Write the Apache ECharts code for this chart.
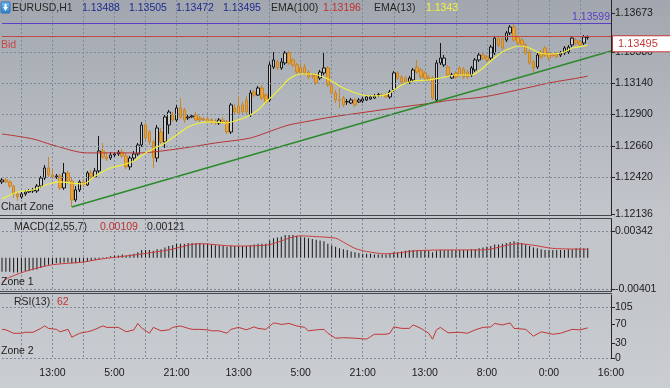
<!DOCTYPE html>
<html><head><meta charset="utf-8">
<script src="https://cdn.jsdelivr.net/npm/echarts@6/dist/echarts.min.js"></script>
<style>
html,body{margin:0;padding:0;}
body{width:670px;height:388px;overflow:hidden;background:linear-gradient(#a2a7af 0px,#b9bdc3 150px,#c2c6cb 215px,#c3c7cc 300px,#cacdd1 388px);}
#c{width:670px;height:388px;}
</style></head><body><div id="c"></div>
<script>
// ---- data ----
// candles: [open, high, low, close]
const candles = [
[1.12384,1.12414,1.12368,1.12399],[1.12399,1.12414,1.12376,1.12384],[1.12384,1.12399,1.12338,1.12353],[1.12353,1.12361,1.12261,1.12292],
[1.12292,1.12307,1.12239,1.12269],[1.12269,1.12307,1.12254,1.12292],[1.12292,1.12323,1.12277,1.12307],[1.12307,1.12330,1.12300,1.12315],
[1.12315,1.12338,1.12300,1.12323],[1.12315,1.12368,1.12300,1.12353],[1.12353,1.12430,1.12338,1.12414],[1.12414,1.12514,1.12399,1.12491],
[1.12491,1.12575,1.12422,1.12437],[1.12437,1.12483,1.12407,1.12422],[1.12422,1.12445,1.12407,1.12430],[1.12430,1.12445,1.12323,1.12338],
[1.12338,1.12529,1.12323,1.12453],[1.12453,1.12468,1.12368,1.12391],[1.12391,1.12414,1.12192,1.12246],[1.12246,1.12353,1.12231,1.12323],
[1.12323,1.12399,1.12307,1.12384],[1.12384,1.12407,1.12345,1.12361],[1.12361,1.12468,1.12353,1.12453],[1.12453,1.12476,1.12407,1.12422],
[1.12422,1.12491,1.12414,1.12468],[1.12468,1.12736,1.12453,1.12621],[1.12621,1.12682,1.12560,1.12575],[1.12575,1.12613,1.12544,1.12560],
[1.12567,1.12613,1.12552,1.12590],[1.12590,1.12613,1.12575,1.12598],[1.12598,1.12628,1.12583,1.12613],[1.12613,1.12636,1.12567,1.12583],
[1.12583,1.12606,1.12483,1.12499],[1.12499,1.12583,1.12476,1.12567],[1.12567,1.12621,1.12544,1.12598],[1.12598,1.12682,1.12583,1.12667],
[1.12667,1.12843,1.12651,1.12820],[1.12820,1.12835,1.12705,1.12720],[1.12766,1.12781,1.12667,1.12690],[1.12690,1.12705,1.12491,1.12567],
[1.12567,1.12820,1.12537,1.12797],[1.12766,1.12797,1.12674,1.12690],[1.12690,1.12896,1.12644,1.12881],[1.12820,1.12935,1.12751,1.12919],
[1.12896,1.12919,1.12843,1.12858],[1.12858,1.12973,1.12843,1.12950],[1.12950,1.13026,1.12866,1.12881],[1.12935,1.12950,1.12835,1.12858],
[1.12873,1.12896,1.12858,1.12881],[1.12881,1.12904,1.12873,1.12889],[1.12896,1.12919,1.12850,1.12858],[1.12873,1.12889,1.12843,1.12858],
[1.12866,1.12881,1.12850,1.12858],[1.12866,1.12881,1.12835,1.12843],[1.12858,1.12873,1.12827,1.12843],[1.12850,1.12866,1.12820,1.12835],
[1.12835,1.12873,1.12820,1.12858],[1.12858,1.12881,1.12827,1.12843],[1.12843,1.12858,1.12751,1.12766],[1.12766,1.12988,1.12751,1.12973],
[1.12950,1.12980,1.12904,1.12919],[1.12965,1.13042,1.12896,1.12912],[1.12973,1.12996,1.12904,1.12919],[1.13011,1.13042,1.12904,1.12919],
[1.12896,1.13088,1.12881,1.13065],[1.13072,1.13088,1.13034,1.13049],[1.13049,1.13118,1.13042,1.13103],[1.13103,1.13126,1.13011,1.13026],
[1.13049,1.13065,1.12980,1.12996],[1.13011,1.13302,1.12996,1.13279],[1.13263,1.13378,1.13248,1.13317],[1.13302,1.13317,1.13241,1.13256],
[1.13256,1.13332,1.13241,1.13302],[1.13294,1.13386,1.13279,1.13371],[1.13371,1.13386,1.13279,1.13294],[1.13317,1.13332,1.13263,1.13279],
[1.13279,1.13294,1.13210,1.13225],[1.13256,1.13294,1.13202,1.13218],[1.13263,1.13286,1.13202,1.13218],[1.13225,1.13241,1.13172,1.13187],
[1.13195,1.13218,1.13172,1.13190],[1.13202,1.13218,1.13126,1.13141],[1.13179,1.13241,1.13164,1.13225],[1.13218,1.13371,1.13202,1.13256],
[1.13256,1.13271,1.13110,1.13126],[1.13126,1.13141,1.13049,1.13065],[1.13065,1.13088,1.12988,1.13011],[1.13011,1.13103,1.12950,1.13008],
[1.13026,1.13042,1.12957,1.12973],[1.12996,1.13019,1.12973,1.12999],[1.12988,1.13026,1.12980,1.13011],[1.13011,1.13026,1.12957,1.12973],
[1.12996,1.13026,1.12988,1.13011],[1.13003,1.13034,1.12988,1.13019],[1.13011,1.13049,1.13003,1.13034],[1.13019,1.13049,1.13011,1.13034],
[1.13026,1.13057,1.13019,1.13042],[1.13049,1.13065,1.13034,1.13052],[1.13049,1.13065,1.13034,1.13046],[1.13049,1.13065,1.13026,1.13034],
[1.13034,1.13088,1.13019,1.13072],[1.13088,1.13233,1.13072,1.13218],[1.13218,1.13233,1.13164,1.13179],[1.13187,1.13202,1.13133,1.13149],
[1.13179,1.13195,1.13133,1.13149],[1.13149,1.13195,1.13133,1.13179],[1.13164,1.13256,1.13149,1.13241],[1.13263,1.13317,1.13210,1.13225],
[1.13241,1.13256,1.13172,1.13187],[1.13218,1.13233,1.13164,1.13179],[1.13187,1.13202,1.13149,1.13164],[1.13179,1.13195,1.13011,1.13026],
[1.13011,1.13317,1.12996,1.13294],[1.13294,1.13447,1.13279,1.13332],[1.13279,1.13355,1.13263,1.13332],[1.13263,1.13279,1.13187,1.13202],
[1.13179,1.13218,1.13172,1.13202],[1.13218,1.13233,1.13172,1.13187],[1.13256,1.13271,1.13187,1.13202],[1.13248,1.13263,1.13172,1.13187],
[1.13225,1.13241,1.13172,1.13187],[1.13202,1.13271,1.13187,1.13256],[1.13241,1.13332,1.13225,1.13317],[1.13317,1.13378,1.13302,1.13355],
[1.13355,1.13371,1.13317,1.13332],[1.13340,1.13355,1.13302,1.13317],[1.13332,1.13432,1.13317,1.13416],[1.13371,1.13501,1.13355,1.13485],
[1.13485,1.13501,1.13416,1.13432],[1.13478,1.13493,1.13394,1.13409],[1.13470,1.13539,1.13455,1.13524],[1.13524,1.13585,1.13508,1.13569],
[1.13569,1.13592,1.13455,1.13470],[1.13493,1.13508,1.13432,1.13447],[1.13470,1.13485,1.13416,1.13432],[1.13432,1.13447,1.13355,1.13371],
[1.13378,1.13394,1.13279,1.13294],[1.13302,1.13317,1.13225,1.13256],[1.13263,1.13371,1.13248,1.13355],[1.13378,1.13394,1.13325,1.13340],
[1.13409,1.13424,1.13340,1.13355],[1.13371,1.13386,1.13317,1.13332],[1.13355,1.13371,1.13340,1.13352],[1.13363,1.13378,1.13332,1.13340],
[1.13355,1.13386,1.13340,1.13371],[1.13371,1.13424,1.13355,1.13409],[1.13378,1.13432,1.13363,1.13416],[1.13432,1.13501,1.13416,1.13485],
[1.13470,1.13485,1.13432,1.13447],[1.13455,1.13470,1.13416,1.13432],[1.13447,1.13508,1.13432,1.13493],[1.13488,1.13505,1.13472,1.13495]
];
const slotCount = 158;               // bars + empty space to the right edge
const timeLabels = ['13:00','5:00','21:00','13:00','5:00','21:00','13:00','8:00','0:00','16:00'];
const firstLabelBar = 13, labelStep = 16;
const firstGridBar = 5, gridStep = 8;

const ema13Pts = [[0,1.12254],[4,1.12307],[8,1.12323],[12,1.12368],[15,1.12384],[18,1.12376],[21,1.12368],[24,1.12430],[28,1.12491],[31,1.12514],[34,1.12544],[37,1.12606],[40,1.12651],[42,1.12682],[45,1.12743],[48,1.12805],[51,1.12835],[54,1.12843],[58,1.12835],[60,1.12850],[63,1.12881],[66,1.12935],[68,1.12996],[70,1.13049],[72,1.13110],[74,1.13172],[77,1.13210],[80,1.13210],[84,1.13172],[88,1.13103],[93,1.13049],[97,1.13042],[100,1.13065],[103,1.13126],[106,1.13156],[110,1.13164],[113,1.13179],[117,1.13202],[121,1.13202],[124,1.13256],[126,1.13309],[129,1.13378],[132,1.13416],[134,1.13424],[136,1.13409],[138,1.13378],[140,1.13363],[142,1.13363],[145,1.13378],[147,1.13409],[150,1.13424],[151,1.1343]];
const ema100Pts = [[0,1.12751],[8,1.12713],[13,1.12667],[22,1.12606],[30,1.12606],[35,1.12606],[39,1.12613],[47,1.12644],[55,1.12682],[64,1.12720],[70,1.12781],[74,1.12820],[78,1.12843],[85,1.12881],[94,1.12919],[103,1.12957],[111,1.12988],[116,1.13011],[124,1.13034],[133,1.13088],[141,1.13141],[150,1.13187],[151,1.13196]];
const trendPts = [[18,1.12192],[157,1.13386]];
const purpleLevel = 1.13599;
const bidPrice = 1.13495;
const priceTicks = [1.13673,1.13380,1.13140,1.12900,1.12660,1.12420,1.12136];
const priceGrid = [1.13380,1.13140,1.12900,1.12660,1.12420];

const macdHist = [
-0.0018,-0.0018,-0.0018,-0.0019,-0.0019,
-0.0018,-0.0017,-0.0017,-0.0016,-0.0015,-0.0013,-0.0011,
-0.0009,-0.0008,-0.0007,-0.0007,
-0.0006,-0.0006,-0.0007,-0.0007,-0.0006,-0.0006,-0.0005,-0.0004,-0.0003,
-0.0002,0.00005,0.0001,0.0002,0.0003,0.0003,0.0004,0.0003,0.0004,0.0005,
0.0007,0.0010,0.0010,0.0010,0.0009,0.0011,0.0011,0.0013,
0.0015,0.0016,0.0018,0.0018,0.0018,0.0019,0.0019,0.0019,0.0019,
0.0018,0.0018,0.0017,0.0016,0.0016,0.0015,0.0014,0.0015,
0.0015,0.0015,0.0015,0.0015,0.0016,0.0017,0.0018,0.0018,0.0018,
0.0022,0.0025,0.0026,0.0027,0.0029,0.0029,0.0029,0.0028,0.0027,
0.0026,0.0025,0.0024,0.0023,0.0022,0.0021,0.0018,0.0016,0.0014,
0.0012,0.0011,0.0010,0.0008,0.0007,0.0006,0.0005,0.0005,0.0005,0.0004,0.0004,
0.0004,0.0004,0.0005,0.0007,0.0007,0.0008,
0.0009,0.0010,0.0010,0.0010,0.0010,0.0010,0.0009,0.0007,0.0009,
0.0010,0.0010,0.0010,0.0010,0.0010,0.0010,0.0010,0.0010,0.0011,0.0011,0.0012,0.0013,0.0014,
0.0015,0.0017,0.0017,0.0018,0.0019,0.0020,0.0021,0.0020,
0.0019,0.0017,0.0015,0.0013,0.0012,0.0011,0.0010,0.0010,
0.0010,0.0010,0.0010,0.0010,0.0011,0.0011,0.0012,0.0012,0.0012,0.00121
];
const macdSignalPts = [[0,-0.0031],[2,-0.0025],[7,-0.0016],[13,-0.0009],[21,-0.00055],[25,-0.0002],[34,0.00035],[43,0.0010],[51,0.0018],[60,0.0015],[68,0.0016],[77,0.0028],[81,0.0027],[86,0.0025],[88,0.0020],[91,0.0012],[94,0.0008],[99,0.0005],[107,0.0009],[116,0.0010],[124,0.0010],[133,0.0018],[137,0.0016],[142,0.0012],[151,0.00109]];
const macdTicks = [0.00342,-0.00401];

const rsiPts = [[0,59],[1,58],[3,51],[5,51],[6,53],[8,53],[10,61],[11,66],[12,61],[14,59],[15,54],[17,59],[18,43],[20,51],[22,54],[23,56],[24,59],[26,66],[27,63],[29,63],[30,63],[32,54],[34,58],[35,71],[36,62],[38,51],[39,63],[41,56],[43,58],[44,63],[46,66],[48,61],[49,59],[51,59],[53,58],[54,56],[56,56],[58,51],[59,59],[60,61],[61,63],[63,58],[65,64],[66,61],[68,59],[70,72],[71,71],[72,69],[74,71],[76,66],[78,63],[79,56],[81,58],[83,59],[84,51],[86,41],[88,42],[91,41],[94,39],[95,44],[96,49],[99,49],[100,51],[101,64],[103,61],[105,61],[106,68],[108,61],[109,56],[110,51],[111,39],[112,58],[113,63],[115,52],[118,53],[120,51],[122,58],[124,63],[126,64],[127,71],[129,68],[131,72],[132,61],[135,59],[137,45],[139,54],[142,49],[144,51],[147,59],[149,58],[151,62]];
const rsiTicks = [105,70,30,0];
const rsiGrid = [105,0];

// ---- chart ----
const FONT = '"Liberation Sans",Arial,sans-serif';
const FS = 10.5;
const GRIDC = '#7f8997';
const cats = Array.from({length: slotCount}, (_, i) => String(i));
const kData = candles.map(c => [c[0], c[3], c[2], c[1]]);
const last = candles[candles.length - 1];

function dashed(v) {
  return {yAxis: v, label: {show: false}, lineStyle: {type: [2,2], color: GRIDC, width: 1}};
}
function hLines(items) {
  return {silent: true, symbol: ['none','none'], animation: false, precision: 6, data: items};
}
function xAx(g, showLabel) {
  return {
    type: 'category', gridIndex: g, data: cats, boundaryGap: false,
    axisLine: {show: false}, axisTick: {show: false},
    axisLabel: showLabel ? {
      show: true, hideOverlap: false,
      interval: (i) => i >= firstLabelBar && (i - firstLabelBar) % labelStep === 0,
      formatter: (v, i) => timeLabels[(i - firstLabelBar) / labelStep],
      color: '#1a1a1a', fontSize: FS, fontFamily: FONT, margin: 9
    } : {show: false},
    splitLine: {show: true, interval: (i) => i >= firstGridBar && (i - firstGridBar) % gridStep === 0 && i < slotCount - 1,
      lineStyle: {type: [2,2], color: GRIDC, width: 1}}
  };
}
function yAx(g, min, max, vals, fmt) {
  return {
    type: 'value', gridIndex: g, position: 'right', min: min, max: max,
    axisLine: {show: true, lineStyle: {color: '#262626', width: 1}},
    axisTick: {show: true, customValues: vals, length: 4, lineStyle: {color: '#262626'}},
    axisLabel: {customValues: vals, formatter: fmt, color: '#1a1a1a', fontSize: FS, fontFamily: FONT, margin: 4},
    splitLine: {show: false}
  };
}
function txt(x, y, s, color) {
  return {type: 'text', x: x, y: y, silent: true, z: 100,
    style: {text: s, fill: color, fontSize: FS, fontFamily: FONT, verticalAlign: 'middle'}};
}
function hsep(y) {
  return {type: 'line', silent: true, z: 90, shape: {x1: 0, y1: y, x2: 612, y2: y}, style: {stroke: '#44484d', lineWidth: 1}};
}

const chart = echarts.init(document.getElementById('c'), null, {renderer: 'canvas'});
const signalLast = macdSignalPts[macdSignalPts.length - 1][1];
const histLast = macdHist[macdHist.length - 1];
const option = {
  animation: false,
  backgroundColor: 'transparent',
  grid: [
    {left: 2, right: 59, top: 0, height: 215},
    {left: 2, right: 59, top: 219, height: 72},
    {left: 2, right: 59, top: 295, height: 63.3}
  ],
  xAxis: [xAx(0, false), xAx(1, false), xAx(2, true)],
  yAxis: [
    yAx(0, 1.12131, 1.13776, priceTicks, v => v.toFixed(5)),
    yAx(1, -0.00426, 0.00496, macdTicks, v => v.toFixed(5)),
    yAx(2, 0, 129, rsiTicks, v => String(v))
  ],
  series: [
    {
      type: 'candlestick', xAxisIndex: 0, yAxisIndex: 0, data: kData, barWidth: 3, clip: false, z: 3,
      itemStyle: {color: '#c9ccd0', color0: '#e8a33a', borderColor: '#161616', borderColor0: '#c7862a', borderWidth: 1}
    },
    {type: 'line', xAxisIndex: 0, yAxisIndex: 0, data: ema100Pts, smooth: 0.3, symbol: 'none', lineStyle: {color: '#b83434', width: 1}, z: 4},
    {type: 'line', xAxisIndex: 0, yAxisIndex: 0, data: ema13Pts, smooth: 0.3, symbol: 'none', lineStyle: {color: '#f0f03c', width: 1.2}, z: 5,
     markLine: hLines(priceGrid.map(dashed).concat([
       {yAxis: purpleLevel, lineStyle: {type: 'solid', color: '#5a3ec6', width: 1},
        label: {show: true, position: 'insideEndTop', distance: 1, formatter: purpleLevel.toFixed(5), color: '#5a3ec6', fontSize: FS, fontFamily: FONT}},
       {yAxis: bidPrice, lineStyle: {type: 'solid', color: '#c54646', width: 1},
        label: {show: true, position: 'end', distance: 2, offset: [0, 7], formatter: bidPrice.toFixed(5), color: '#c43a3a',
          backgroundColor: '#ffffff', borderColor: '#c43a3a', borderWidth: 1, padding: [2, 14, 2, 5], fontSize: 11, fontFamily: FONT}}
     ]))},
    {type: 'line', xAxisIndex: 0, yAxisIndex: 0, data: trendPts, symbol: 'none', lineStyle: {color: '#2b8a2b', width: 1.5}, z: 4},
    {type: 'bar', xAxisIndex: 1, yAxisIndex: 1, data: macdHist, barWidth: 1, itemStyle: {color: '#161616'}, markLine: hLines(macdTicks.map(dashed))},
    {type: 'line', xAxisIndex: 1, yAxisIndex: 1, data: macdSignalPts, smooth: 0.3, symbol: 'none', lineStyle: {color: '#c83c3c', width: 1}, z: 4},
    {type: 'line', xAxisIndex: 2, yAxisIndex: 2, data: rsiPts, symbol: 'none', lineStyle: {color: '#c03636', width: 1}, markLine: hLines(rsiGrid.map(dashed))}
  ],
  graphic: [
    hsep(215.5), hsep(218.5), hsep(291.5), hsep(293.5),
    {type: 'rect', silent: true, z: 100, shape: {x: 1, y: 2, width: 9, height: 11, r: 1},
     style: {fill: new echarts.graphic.LinearGradient(0, 0, 0, 1, [{offset: 0, color: '#7cc0f4'}, {offset: 1, color: '#2a7fd0'}]), stroke: '#2e6fb0'}},
    {type: 'polygon', silent: true, z: 101, shape: {points: [[3, 7], [8, 7], [5.5, 11]]}, style: {fill: '#ffffff'}},
    {type: 'rect', silent: true, z: 101, shape: {x: 4.5, y: 4, width: 2, height: 3.5}, style: {fill: '#ffffff'}},
    txt(12, 8, 'EURUSD,H1', '#262626'),
    txt(82, 8, last[0].toFixed(5), '#1d2b8e'),
    txt(129, 8, last[1].toFixed(5), '#1d2b8e'),
    txt(176, 8, last[2].toFixed(5), '#1d2b8e'),
    txt(223, 8, last[3].toFixed(5), '#1d2b8e'),
    txt(271, 8, 'EMA(100)', '#262626'),
    txt(323, 8, ema100Pts[ema100Pts.length - 1][1].toFixed(5), '#c03030'),
    txt(374, 8, 'EMA(13)', '#262626'),
    txt(426, 8, String(ema13Pts[ema13Pts.length - 1][1]), '#f4f43c'),
    txt(1, 45, 'Bid', '#c84848'),
    txt(1, 207, 'Chart Zone', '#1e1e1e'),
    txt(14, 227.5, 'MACD(12,55,7)', '#262626'),
    txt(100, 227.5, signalLast.toFixed(5), '#c03030'),
    txt(147, 227.5, histLast.toFixed(5), '#262626'),
    txt(1, 282, 'Zone 1', '#1e1e1e'),
    txt(14, 302, 'RSI(13)', '#262626'),
    txt(57, 302, String(rsiPts[rsiPts.length - 1][1]), '#c03030'),
    txt(1, 351, 'Zone 2', '#1e1e1e')
  ]
};
chart.setOption(option);
</script></body></html>
